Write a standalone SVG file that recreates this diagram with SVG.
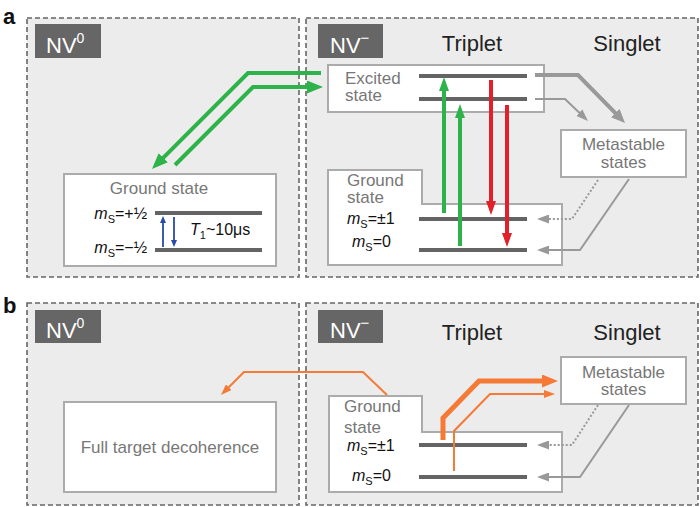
<svg xmlns="http://www.w3.org/2000/svg" width="700" height="507" viewBox="0 0 700 507">
<style>
text{font-family:"Liberation Sans",Arial,Helvetica,sans-serif}
.panel{fill:#ececec;stroke:#666;stroke-width:1.6;stroke-dasharray:5 3}
.tag{fill:#666}
.tagt{fill:#fff;font-size:22px}
.hdr{fill:#222;font-size:22px;text-anchor:middle}
.box{fill:#fff;stroke:#ababab;stroke-width:2}
.gl{fill:#777;font-size:17px}
.lvl{stroke:#646464;stroke-width:4}
.ms{fill:#111;font-size:16px}
.pl{font-size:22px;font-weight:bold;fill:#111}
.c{fill:none}
.g{stroke:#2db34a;stroke-width:4}
.r{stroke:#e0202a;stroke-width:4}
.gr{stroke:#999}
.o{stroke:#f47a35}
.b{stroke:#2a49a8;stroke-width:1.8}
</style>
<defs>
<marker id="mG" viewBox="0 0 16 13" markerWidth="16" markerHeight="13" refX="10" refY="6.5" orient="auto" markerUnits="userSpaceOnUse"><path d="M0,0L16,6.5L0,13z" fill="#2db34a"/></marker>
<marker id="mGv" viewBox="0 0 14 10" markerWidth="14" markerHeight="10" refX="7" refY="5" orient="auto" markerUnits="userSpaceOnUse"><path d="M0,0L14,5L0,10z" fill="#2db34a"/></marker>
<marker id="mR" viewBox="0 0 14 10" markerWidth="14" markerHeight="10" refX="7" refY="5" orient="auto" markerUnits="userSpaceOnUse"><path d="M0,0L14,5L0,10z" fill="#e0202a"/></marker>
<marker id="mGr" viewBox="0 0 14 12" markerWidth="14" markerHeight="12" refX="8" refY="6" orient="auto" markerUnits="userSpaceOnUse"><path d="M0,0L14,6L0,12z" fill="#999"/></marker>
<marker id="mGrs" viewBox="0 0 12 9" markerWidth="12" markerHeight="9" refX="8" refY="4.5" orient="auto" markerUnits="userSpaceOnUse"><path d="M0,0L12,4.5L0,9z" fill="#999"/></marker>
<marker id="mB" viewBox="0 0 7 6" markerWidth="7" markerHeight="6" refX="4" refY="3" orient="auto" markerUnits="userSpaceOnUse"><path d="M0,0L7,3L0,6z" fill="#2a49a8"/></marker>
<marker id="mO" viewBox="0 0 16 13" markerWidth="16" markerHeight="13" refX="8" refY="6.5" orient="auto" markerUnits="userSpaceOnUse"><path d="M0,0L16,6.5L0,13z" fill="#f47a35"/></marker>
<marker id="mOs" viewBox="0 0 11 8" markerWidth="11" markerHeight="8" refX="7" refY="4" orient="auto" markerUnits="userSpaceOnUse"><path d="M0,0L11,4L0,8z" fill="#f47a35"/></marker>
</defs>

<text class="pl" x="3" y="24">a</text>
<text class="pl" x="3" y="313">b</text>

<!-- Panel a -->
<g id="a-nv0">
<rect class="panel" x="27" y="18" width="272" height="259"/>
<rect class="tag" x="35" y="24" width="66" height="34"/>
<text class="tagt" x="46" y="53">NV<tspan font-size="14" dy="-10">0</tspan></text>
</g>
<g id="a-nvm">
<rect class="panel" x="306" y="18" width="392" height="259"/>
<rect class="tag" x="318" y="24" width="65" height="34"/>
<text class="tagt" x="330" y="53">NV<tspan font-size="15" dy="-10">−</tspan></text>
<text class="hdr" x="472" y="51">Triplet</text>
<text class="hdr" x="627" y="51">Singlet</text>
</g>
<g id="a-nv0-ground">
<rect class="box" x="64" y="174" width="212" height="92"/>
<text class="gl" x="159" y="194" text-anchor="middle">Ground state</text>
<line class="lvl" x1="155" y1="213" x2="262" y2="213"/>
<line class="lvl" x1="155" y1="250" x2="262" y2="250"/>
<text class="ms" x="147" y="219" text-anchor="end"><tspan font-style="italic">m</tspan><tspan font-size="11" dy="4">S</tspan><tspan dy="-4">=+½</tspan></text>
<text class="ms" x="147" y="253" text-anchor="end"><tspan font-style="italic">m</tspan><tspan font-size="11" dy="4">S</tspan><tspan dy="-4">=−½</tspan></text>
<text class="ms" x="190" y="235"><tspan font-style="italic">T</tspan><tspan font-size="11" dy="4">1</tspan><tspan dy="-4">~10μs</tspan></text>
</g>
<g id="a-excited">
<rect class="box" x="328" y="65" width="216" height="47"/>
<text class="gl" x="345" y="84">Excited</text>
<text class="gl" x="345" y="101">state</text>
<line class="lvl" x1="419" y1="76" x2="527" y2="76"/>
<line class="lvl" x1="419" y1="99" x2="527" y2="99"/>
</g>
<g id="a-ground">
<path class="box" d="M328,170H422V204H562V265H328Z"/>
<text class="gl" x="347" y="186">Ground</text>
<text class="gl" x="347" y="203">state</text>
<line class="lvl" x1="419" y1="219" x2="527" y2="219"/>
<line class="lvl" x1="419" y1="250" x2="527" y2="250"/>
<text class="ms" x="347" y="224"><tspan font-style="italic">m</tspan><tspan font-size="11" dy="4">S</tspan><tspan dy="-4">=±1</tspan></text>
<text class="ms" x="352" y="247"><tspan font-style="italic">m</tspan><tspan font-size="11" dy="4">S</tspan><tspan dy="-4">=0</tspan></text>
</g>
<g id="a-meta">
<rect class="box" x="561" y="130" width="125" height="47"/>
<text class="gl" x="623.5" y="150" text-anchor="middle">Metastable</text>
<text class="gl" x="623.5" y="168" text-anchor="middle">states</text>
</g>

<!-- Panel b -->
<g id="b-nv0">
<rect class="panel" x="27" y="303" width="272" height="202"/>
<rect class="tag" x="35" y="310" width="66" height="33"/>
<text class="tagt" x="46" y="338">NV<tspan font-size="14" dy="-10">0</tspan></text>
</g>
<g id="b-nvm">
<rect class="panel" x="306" y="303" width="392" height="202"/>
<rect class="tag" x="318" y="310" width="65" height="33"/>
<text class="tagt" x="330" y="338">NV<tspan font-size="15" dy="-10">−</tspan></text>
<text class="hdr" x="472" y="340">Triplet</text>
<text class="hdr" x="627" y="340">Singlet</text>
</g>
<g id="b-decoherence">
<rect class="box" x="64" y="402" width="212" height="90"/>
<text class="gl" x="170" y="453" text-anchor="middle">Full target decoherence</text>
</g>
<g id="b-ground">
<path class="box" d="M329,396H422V432H562V492H329Z"/>
<text class="gl" x="344" y="412">Ground</text>
<text class="gl" x="344" y="433">state</text>
<line class="lvl" x1="419" y1="445" x2="527" y2="445"/>
<line class="lvl" x1="419" y1="477" x2="527" y2="477"/>
<text class="ms" x="347" y="451"><tspan font-style="italic">m</tspan><tspan font-size="11" dy="4">S</tspan><tspan dy="-4">=±1</tspan></text>
<text class="ms" x="352" y="481"><tspan font-style="italic">m</tspan><tspan font-size="11" dy="4">S</tspan><tspan dy="-4">=0</tspan></text>
</g>
<g id="b-meta">
<rect class="box" x="561" y="357" width="125" height="47"/>
<text class="gl" x="623.5" y="378" text-anchor="middle">Metastable</text>
<text class="gl" x="623.5" y="395" text-anchor="middle">states</text>
</g>

<!-- Connectors -->
<g id="connectors" class="c">
<path class="g" d="M321,73H248L156.2,164.8" marker-end="url(#mG)"/>
<path class="g" d="M175,165L253,87H317" marker-end="url(#mG)"/>
<path class="g" d="M444,213V84" marker-end="url(#mGv)"/>
<path class="g" d="M460,246V111" marker-end="url(#mGv)"/>
<path class="r" d="M491,80V208" marker-end="url(#mR)"/>
<path class="r" d="M507,105V240" marker-end="url(#mR)"/>
<path class="gr" stroke-width="4" d="M535,75H578L620.8,118.7" marker-end="url(#mGr)"/>
<path class="gr" stroke-width="2" d="M535,99H565L585.1,118.2" marker-end="url(#mGrs)"/>
<path class="gr" stroke-width="2" stroke-dasharray="2 2" d="M598,180L572,219H541" marker-end="url(#mGrs)"/>
<path class="gr" stroke-width="2" d="M629,179L580,250H541" marker-end="url(#mGrs)"/>
<path class="b" d="M163,247V219" marker-end="url(#mB)"/>
<path class="b" d="M174,217V244" marker-end="url(#mB)"/>

<path class="o" stroke-width="2" d="M387,395L363,372H244L223.8,392.2" marker-end="url(#mOs)"/>
<path class="o" stroke-width="5" d="M443,440V418L479,381H550" marker-end="url(#mO)"/>
<path class="o" stroke-width="2" d="M454,471V431L490,394H551" marker-end="url(#mOs)"/>
<path class="gr" stroke-width="2" stroke-dasharray="2 2" d="M598,405L572,445H541" marker-end="url(#mGrs)"/>
<path class="gr" stroke-width="2" d="M629,405L580,477H541" marker-end="url(#mGrs)"/>
</g>
</svg>
